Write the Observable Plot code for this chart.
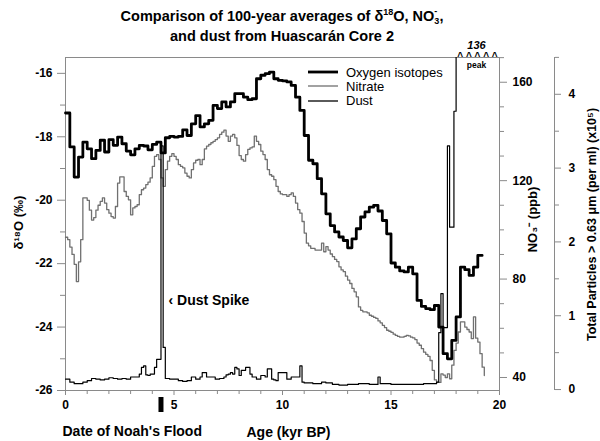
<!DOCTYPE html>
<html>
<head>
<meta charset="utf-8">
<script src="https://cdn.jsdelivr.net/npm/d3@7"></script>
<script src="https://cdn.jsdelivr.net/npm/@observablehq/plot@0.6"></script>
<style>
  body { margin: 0; background: #fff; font-family: "Liberation Sans", Arial, Helvetica, sans-serif; }
  #wrap { position: relative; width: 600px; height: 441px; overflow: hidden; }
  #title { height: 38px; overflow: visible; box-sizing: border-box; padding-top: 6px; padding-right: 36px;
           text-align: center; font-weight: bold; font-size: 14.5px; line-height: 20px; color: #000; position: relative; z-index: 1; }
  #title sup { font-size: 9px; line-height: 0; }
  #title .stack { display: inline-block; font-size: 9px; line-height: 10px; vertical-align: -3px; text-align: left; }
  #legend { position: absolute; left: 0; top: 0; }
  .lg-row { position: absolute; height: 14px; display: flex; align-items: center; font-size: 13px; color: #000; white-space: nowrap; }
  .lg-row svg { margin-right: 8px; }
</style>
</head>
<body>
<div id="wrap">
  <div id="title">Comparison of 100-year averages of δ<sup>18</sup>O, NO<span class="stack">-<br>3</span>,<br>and dust from Huascarán Core 2</div>
  <div id="chart"></div>
  <div id="legend"></div>
</div>
<script>
// ---------- DATA ----------
// δ18O (per mil), 200-year sampling, starting at 0 kyr BP
const o18Start = 0, o18Step = 0.2;
const o18Values = [
  -17.25, -18.32, -19.27, -18.64, -18.17, -18.38, -18.69, -18.43, -18.11, -18.48,
  -18.09, -18.27, -18.01, -18.22, -18.45, -18.57, -18.38, -18.27, -18.29, -18.41,
  -18.24, -18.17, -18.51, -18.03, -17.99, -18.01, -17.99, -17.78, -17.96, -17.59,
  -17.33, -17.69, -17.59, -17.48, -17.01, -17.11, -16.90, -17.06, -16.90, -16.64,
  -16.64, -16.75, -16.83, -16.80, -16.17, -16.06, -16.01, -15.96, -16.17, -16.22,
  -16.24, -16.27, -16.38, -16.75, -17.17, -17.96, -18.74, -18.85, -19.32, -19.80,
  -20.43, -20.80, -21.00, -21.16, -21.27, -21.50, -21.22, -20.90, -20.53, -20.37,
  -20.22, -20.16, -20.34, -20.64, -21.06, -21.98, -22.11, -22.23, -22.26, -22.11,
  -22.32, -23.16, -23.35, -23.42, -23.45, -23.32, -24.00, -24.84, -25.00, -24.42,
  -23.68, -22.11, -22.19, -22.37, -22.11, -21.74, -21.74
];

// Nitrate NO3- (ppb), 100-year averages starting at 0 kyr BP
const no3Start = 0, no3Step = 0.1;
const no3Values = [
  97, 96, 93, 90, 86, 79, 87, 96, 113, 113,
  112, 108, 104, 105, 108, 110, 111.6, 113, 110.9, 108.2,
  106.8, 105.4, 104.8, 109.5, 119, 121.5, 121.5, 115.6, 113.6, 112.2,
  106.1, 108.9, 109.5, 110.2, 114.3, 116.3, 117, 118.4, 119.4, 121.1,
  125.8, 129.9, 130.6, 128.6, 121.1, 117.7, 124.5, 127.9, 129.9, 131,
  129.9, 128.6, 126.5, 125.8, 125.2, 123.1, 121.8, 121.1, 124.5, 127.2,
  128.3, 128.6, 126.5, 128.6, 132.9, 134, 134.7, 135.4, 136, 136.7,
  137.4, 138.8, 139.7, 140.5, 138.1, 136, 138.1, 138.8, 137.4, 134.3,
  130.2, 128.6, 127.9, 130.6, 132.7, 133.3, 133.7, 138.1, 136, 134.7,
  132, 130.6, 128.6, 124.5, 122.4, 121.8, 120.4, 117.7, 115.6, 114.6,
  114.3, 114.3, 113.6, 114.3, 115, 113.6, 110.9, 108.2, 106.8, 103.4,
  98.7, 94.6, 93.5, 92.5, 92.5, 91.8, 91.8, 91.8, 94.6, 91.1,
  93.2, 91.8, 90.2, 89.1, 88, 87.1, 85, 83.7, 83, 81.2,
  79.6, 78.2, 76.2, 74.8, 72.8, 68.7, 67.3, 66.7, 66.7, 66.3,
  65.3, 64.9, 64.4, 64, 63, 62.2, 61.2, 60.3, 59.2, 58.8,
  58.3, 57.6, 57.1, 56.7, 56.4, 56.4, 56.7, 57.1, 56.9, 56.4,
  56.1, 55.4, 54, 53.1, 51.7, 50.3, 49.4, 48.6, 46.9, 42.9,
  39, 38, 38, 41.5, 41, 40, 41.5, 39.5, 45, 51,
  54, 58.5, 62.6, 62.6, 60.5, 59.5, 58.5, 55.8, 64.6, 56,
  54.4, 49.7, 44.2, 40.8
];

// Dust: total particles > 0.63 µm per ml (x10^5); ages where the level changes
const dustAge = [
  0, 0.2, 0.4, 0.6, 0.8, 1.0, 1.2, 1.4, 1.6, 1.8, 2.0, 2.2, 2.4, 2.6, 2.8, 3.0, 3.2, 3.4, 3.5, 3.6,
  3.7, 3.8, 3.9, 4.0, 4.1, 4.2, 4.3, 4.4, 4.5, 4.6, 4.8, 5.0, 5.2, 5.4, 5.6, 5.8, 6.0, 6.2, 6.3, 6.5,
  6.7, 6.9, 7.1, 7.3, 7.4, 7.5, 7.6, 7.7, 7.8, 7.9, 8.0, 8.1, 8.2, 8.3, 8.4, 8.5, 8.6, 8.8, 9.0, 9.2,
  9.3, 9.5, 9.6, 9.7, 9.8, 10.2, 10.4, 10.6, 10.8, 10.9, 11.0, 11.4, 11.8, 12.0, 12.3, 12.6, 13.0, 13.5, 14.0, 14.4,
  14.5, 15.0, 15.5, 16.0, 16.5, 17.0, 17.1, 17.2, 17.3, 17.4, 17.5, 17.6, 17.7, 17.9, 18.0, 18.2, 18.4, 18.6, 18.8, 19.0,
  19.2
];
const dustValues = [
  0.14, 0.10, 0.08, 0.08, 0.10, 0.12, 0.15, 0.14, 0.13, 0.14, 0.16, 0.15, 0.14, 0.15, 0.14, 0.17, 0.17, 0.21, 0.30, 0.32,
  0.20, 0.19, 0.21, 0.21, 0.30, 0.41, 0.41, 3.30, 0.57, 0.15, 0.14, 0.14, 0.12, 0.11, 0.12, 0.17, 0.14, 0.17, 0.23, 0.17,
  0.17, 0.14, 0.15, 0.17, 0.20, 0.21, 0.23, 0.21, 0.30, 0.28, 0.19, 0.26, 0.26, 0.30, 0.30, 0.21, 0.17, 0.14, 0.19, 0.17,
  0.28, 0.14, 0.13, 0.12, 0.23, 0.14, 0.17, 0.17, 0.32, 0.10, 0.09, 0.08, 0.10, 0.09, 0.07, 0.06, 0.07, 0.08, 0.07, 0.17,
  0.08, 0.07, 0.07, 0.07, 0.08, 0.08, 0.10, 0.77, 1.30, 0.84, 0.84, 3.30, 2.20, 3.77, 50, 136, 90, 60, 40, 30,
  20
];

// Date of Noah's Flood (kyr BP) and the dust spike
const floodDate = [4.4];
const spikeAge = [4.4];

// Tick values
const xMajor = [0, 5, 10, 15, 20];
const xMinor = [1, 2, 3, 4, 6, 7, 8, 9, 11, 12, 13, 14, 16, 17, 18, 19];
const o18Major = [-26, -24, -22, -20, -18, -16];
const o18Minor = [-25, -23, -21, -19, -17];
const no3Major = [40, 80, 120, 160];
const no3Minor = [50, 60, 70, 90, 100, 110, 130, 140, 150, 170];
const dustMajor = [0, 1, 2, 3, 4];
const dustMinor = [0.5, 1.5, 2.5, 3.5, 4.5];

// Texts
const legendNames = ["Oxygen isotopes", "Nitrate", "Dust"];
const o18Label = "δ¹⁸O (‰)";
const no3Label = "NO₃⁻ (ppb)";
const dustLabel = "Total Particles > 0.63 μm (per ml) (x10⁵)";
const xLabel = "Age (kyr BP)";
const floodLabel = "Date of Noah's Flood";
const spikeLabel = "‹ Dust Spike";

// ---------- BUILD ----------
const o18 = o18Values.map((v, i) => ({age: +(o18Start + i * o18Step).toFixed(1), v}));
const no3 = no3Values.map((v, i) => ({age: +(no3Start + i * no3Step).toFixed(1), v}));
const dust = dustValues.map((v, i) => ({age: dustAge[i], v}));

// right-hand scales expressed in δ18O units of the shared y scale
const no3ToY = d3.scaleLinear([40, 160], [-25.59, -16.28]);
const dustToY = d3.scaleLinear([0, 4], [-25.97, -16.66]);

const font = "'Liberation Sans', Arial, Helvetica, sans-serif";
const gray = "#8a8a8a";
const ax = {stroke: gray, fill: "black", fontWeight: "bold", fontSize: 12, label: null};
const none = () => "";
const mid = {textAnchor: "middle", lineAnchor: "middle"};

const chart = Plot.plot({
  width: 600,
  height: 403,
  marginTop: 19,
  marginBottom: 51,
  marginLeft: 65,
  marginRight: 101,
  style: {fontFamily: font, background: "transparent", overflow: "visible"},
  x: {domain: [0, 20]},
  y: {domain: [-26, -15.5]},
  marks: [
    Plot.frame({stroke: gray}),
    Plot.ruleX([20], {dx: 55, stroke: gray}),
    Plot.axisY(o18Major, {anchor: "left", tickSize: 8, tickPadding: 5, tickFormat: d => String(d), ...ax}),
    Plot.axisY(o18Minor, {anchor: "left", tickSize: 5, tickFormat: none, ...ax}),
    Plot.axisX(xMajor, {anchor: "bottom", tickSize: 5, tickPadding: 5, tickFormat: d => String(d), ...ax}),
    Plot.axisX(xMinor, {anchor: "bottom", tickSize: 4, tickFormat: none, ...ax}),
    Plot.axisY(no3Major.map(no3ToY), {anchor: "right", tickSize: 7, tickPadding: 6, tickFormat: d => String(Math.round(no3ToY.invert(d))), ...ax}),
    Plot.axisY(no3Minor.map(no3ToY), {anchor: "right", tickSize: 4, tickFormat: none, ...ax}),
    Plot.axisY(dustMajor.map(dustToY), {anchor: "right", dx: 55, tickSize: 6, tickPadding: 8, tickFormat: d => String(Math.round(dustToY.invert(d))), ...ax}),
    Plot.axisY(dustMinor.map(dustToY), {anchor: "right", dx: 55, tickSize: 4, tickFormat: none, ...ax}),

    // series
    Plot.line(no3, {x: "age", y: d => no3ToY(d.v), curve: "step-after", stroke: "#707070", strokeWidth: 1.3}),
    Plot.line(dust, {x: "age", y: d => dustToY(d.v), curve: "step-after", stroke: "#000", strokeWidth: 1.2, clip: true}),
    Plot.line(o18, {x: "age", y: "v", curve: "step-after", stroke: "#000", strokeWidth: 2.8}),

    // axis titles
    Plot.text([o18Label], {text: d => d, frameAnchor: "left", dx: -47, dy: -1.5, rotate: -90, fontSize: 13, fontWeight: "bold", ...mid}),
    Plot.text([no3Label], {text: d => d, frameAnchor: "right", dx: 33, dy: -4.5, rotate: -90, fontSize: 13, fontWeight: "bold", ...mid}),
    Plot.text([dustLabel], {text: d => d, frameAnchor: "right", dx: 92, dy: 0.5, rotate: -90, fontSize: 12.5, fontWeight: "bold", ...mid}),
    Plot.text([xLabel], {text: d => d, frameAnchor: "bottom", dx: 6, dy: 42, fontSize: 14, fontWeight: "bold", ...mid}),

    // Noah's flood marker and label
    Plot.ruleX(floodDate, {insetTop: 340, insetBottom: -22, stroke: "#000", strokeWidth: 5}),
    Plot.text([floodLabel], {text: d => d, frameAnchor: "bottom-left", dx: -3, dy: 41, fontSize: 14, fontWeight: "bold", ...mid, textAnchor: "start"}),

    // dust spike annotation
    Plot.text(spikeAge, {x: d => d, text: () => spikeLabel, frameAnchor: "bottom", dx: 7.5, dy: -90, fontSize: 14, fontWeight: "bold", ...mid, textAnchor: "start"}),

    // off-scale dust peak annotation
    Plot.text([String(d3.max(dustValues))], {text: d => d, frameAnchor: "top-right", dx: -23, dy: -12, fontSize: 11, fontStyle: "italic", fontWeight: "bold", ...mid}),
    Plot.text(["^ ^ ^ ^ ^"], {text: d => d, frameAnchor: "top-right", dx: -22, dy: -1, fontSize: 10, fontWeight: "bold", ...mid}),
    Plot.text(["peak"], {text: d => d, frameAnchor: "top-right", dx: -23, dy: 8, fontSize: 8.5, fontWeight: "bold", ...mid})
  ]
});
document.getElementById("chart").appendChild(chart);

// legend (inside the plot, upper right)
const legendStyles = [
  {stroke: "#000", width: 2.8},
  {stroke: "#707070", width: 1.3},
  {stroke: "#000", width: 1.3}
];
const legend = document.getElementById("legend");
legendNames.forEach((name, i) => {
  const row = document.createElement("div");
  row.className = "lg-row";
  row.style.left = "308px";
  row.style.top = (65 + i * 14.3) + "px";
  const s = legendStyles[i];
  row.innerHTML = `<svg width="30" height="6"><line x1="0" x2="30" y1="3" y2="3" stroke="${s.stroke}" stroke-width="${s.width}"/></svg><span>${name}</span>`;
  legend.appendChild(row);
});
</script>
</body>
</html>
